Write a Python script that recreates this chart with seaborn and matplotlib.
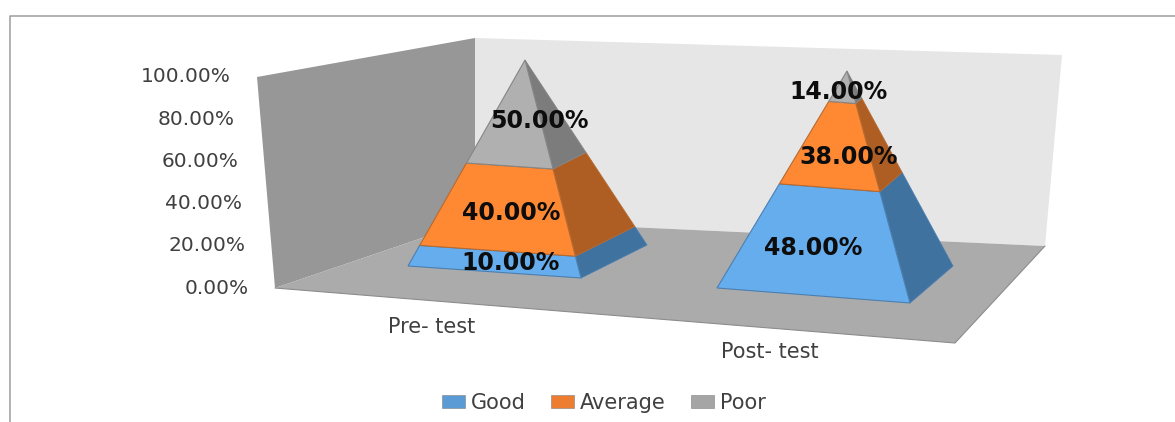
import numpy as np
import pandas as pd
import seaborn as sns
import matplotlib
matplotlib.use("Agg")
import matplotlib.pyplot as plt
from matplotlib.patches import Patch

# Chart values
categories = ["Pre- test", "Post- test"]
series_names = ["Good", "Average", "Poor"]
good = [10.0, 48.0]
average = [40.0, 38.0]
poor = [50.0, 14.0]
axis_ticks = [0, 20, 40, 60, 80, 100]

table = pd.DataFrame({"Good": good, "Average": average, "Poor": poor}, index=categories)

sns.set_theme(style="white")
plt.rcParams["font.family"] = ["DejaVu Sans"]

legend_colors = dict(zip(series_names, sns.color_palette(["#5B9BD5", "#ED7D31", "#A5A5A5"])))
front_colors = dict(zip(series_names, sns.color_palette(["#66ADEE", "#FF8833", "#B0B0B0"])))
side_colors = dict(zip(series_names, sns.color_palette(["#40729F", "#AE5E23", "#7C7C7C"])))
edge_colors = dict(zip(series_names, sns.color_palette(["#4A7FB0", "#B56A30", "#858585"])))

# Scene layout in canvas pixels
WALL_TOP, WALL_BASE = np.array([257.0, 77.0]), np.array([275.0, 288.0])
BACK_TOP, BACK_BASE = np.array([475.0, 38.0]), np.array([475.0, 220.0])
RIGHT_TOP, RIGHT_BASE = np.array([1062.0, 55.0]), np.array([1045.0, 246.0])
FLOOR_FRONT = np.array([955.0, 343.0])

# Each pyramid: three visible base corners and the apex
PYRAMIDS = {
    "Pre- test": dict(left=(408, 266), front=(581, 278), back=(647, 245), apex=(525, 60)),
    "Post- test": dict(left=(717, 288), front=(910, 303), back=(953, 266), apex=(847, 71)),
}
CATEGORY_LABEL_POS = {"Pre- test": (432, 327), "Post- test": (770, 352)}
# Horizontal and vertical nudges of each value label from the centre of its band
LABEL_NUDGE = {
    "Pre- test": {"Good": (15, 2), "Average": (8, 5), "Poor": (22, 8)},
    "Post- test": {"Good": (-8, 6), "Average": (13, 12), "Poor": (-6, 5)},
}

fig = plt.figure(figsize=(11.75, 4.22), dpi=100, facecolor="white")
ax = fig.add_axes([0, 0, 1, 1])
ax.set_xlim(0, 1175)
ax.set_ylim(422, 0)
ax.axis("off")

# Outer chart border
ax.plot([9.5, 9.5, 1175], [422, 15.5, 15.5], color="#9C9C9C", lw=1.1, zorder=1)

# Walls and floor
ax.fill(*zip(WALL_TOP, BACK_TOP, BACK_BASE, WALL_BASE), color="#979797", lw=0, zorder=2)
ax.fill(*zip(BACK_TOP, RIGHT_TOP, RIGHT_BASE, BACK_BASE), color="#E6E6E6", lw=0, zorder=2)
ax.fill(*zip(WALL_BASE, BACK_BASE, RIGHT_BASE, FLOOR_FRONT), color="#ABABAB", lw=0, zorder=3)
ax.plot(*zip(WALL_BASE, FLOOR_FRONT, RIGHT_BASE), color="#8C8C8C", lw=0.8, zorder=3)


def lerp(corner, apex, t):
    corner, apex = np.asarray(corner, float), np.asarray(apex, float)
    return corner + (apex - corner) * t


# Stacked pyramid bands, each one running between cumulative shares of the total
for category, row in table.iterrows():
    geo = PYRAMIDS[category]
    total = row.sum()
    base_mid = (np.asarray(geo["left"], float) + np.asarray(geo["front"], float)) / 2
    lower = 0.0
    for name in series_names:
        upper = lower + row[name] / total
        l0, l1 = lerp(geo["left"], geo["apex"], lower), lerp(geo["left"], geo["apex"], upper)
        f0, f1 = lerp(geo["front"], geo["apex"], lower), lerp(geo["front"], geo["apex"], upper)
        b0, b1 = lerp(geo["back"], geo["apex"], lower), lerp(geo["back"], geo["apex"], upper)
        ax.fill(*zip(f0, b0, b1, f1), facecolor=side_colors[name],
                edgecolor=edge_colors[name], lw=0.6, zorder=5)
        ax.fill(*zip(l0, f0, f1, l1), facecolor=front_colors[name],
                edgecolor=edge_colors[name], lw=0.8, zorder=6)
        centre = lerp(base_mid, geo["apex"], (lower + upper) / 2)
        nudge = LABEL_NUDGE[category][name]
        ax.text(centre[0] + nudge[0], centre[1] + nudge[1], f"{row[name]:.2f}%",
                ha="center", va="center", fontsize=17, fontweight="bold",
                color="#0D0D0D", zorder=8)
        lower = upper

# Value axis labels follow the slanted front edge of the left wall
for tick in axis_ticks:
    edge = WALL_BASE + (WALL_TOP - WALL_BASE) * tick / 100
    ax.text(edge[0] - 26, edge[1], f"{tick:.2f}%", ha="right", va="center",
            fontsize=14.5, color="#404040", zorder=8)

for category, pos in CATEGORY_LABEL_POS.items():
    ax.text(*pos, category, ha="center", va="center", fontsize=15,
            color="#404040", zorder=8)

handles = [Patch(facecolor=legend_colors[n], edgecolor="#7F7F7F", lw=0.4, label=n)
           for n in series_names]
ax.legend(handles=handles, loc="center", bbox_to_anchor=(604, 403),
          bbox_transform=ax.transData, ncol=3, frameon=False, fontsize=15,
          labelcolor="#404040", handlelength=1.1, handleheight=0.55,
          handletextpad=0.3, columnspacing=1.2, borderpad=0)

fig.savefig("out.png", dpi=100, facecolor="white")
